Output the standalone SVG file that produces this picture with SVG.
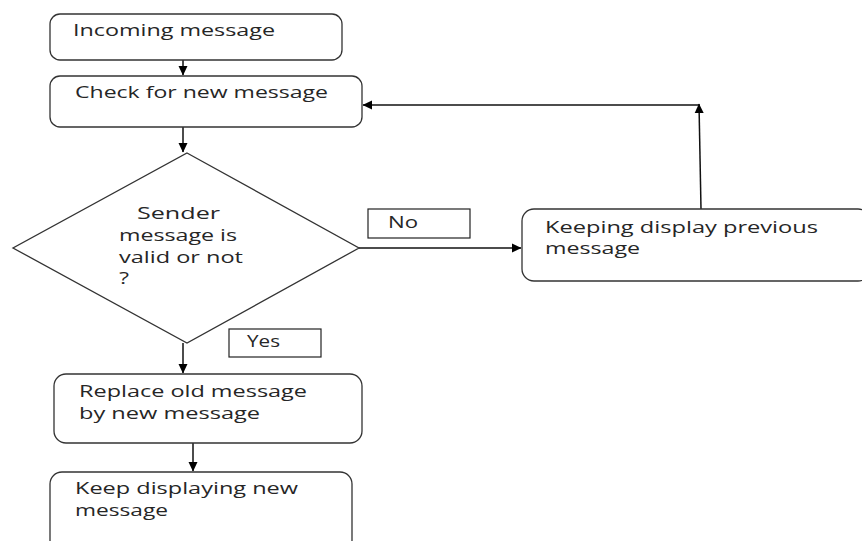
<svg xmlns="http://www.w3.org/2000/svg" width="862" height="541" viewBox="0 0 862 541">
<style>
.n{fill:#fff;stroke:#333;stroke-width:1.3}
.l{fill:#fff;stroke:#222;stroke-width:1.2}
.c{fill:none;stroke:#111;stroke-width:1.5}
text{font-family:"Open Sans","Liberation Sans",sans-serif;font-size:16px;fill:#262626}
</style>
<defs>
<marker id="ah" markerWidth="10" markerHeight="10" refX="9" refY="5" orient="auto" markerUnits="userSpaceOnUse">
<path d="M0,0.5 L9.5,5 L0,9.5 Z" fill="#000"/>
</marker>
</defs>
<rect width="862" height="541" fill="#fff"/>
<g id="connectors">
<line class="c" x1="183" y1="60" x2="183" y2="75" marker-end="url(#ah)"/>
<line class="c" x1="183" y1="127" x2="183" y2="152" marker-end="url(#ah)"/>
<line class="c" x1="359" y1="248" x2="521" y2="248" marker-end="url(#ah)"/>
<polyline class="c" points="701,209 699,104" marker-end="url(#ah)"/>
<line class="c" x1="699" y1="105" x2="363" y2="105" marker-end="url(#ah)"/>
<line class="c" x1="183" y1="343" x2="183" y2="373" marker-end="url(#ah)"/>
<line class="c" x1="193" y1="443" x2="193" y2="471" marker-end="url(#ah)"/>
</g>
<g id="incoming">
<rect class="n" x="50" y="14" width="292" height="46" rx="10"/>
<text x="73" y="36" textLength="202" lengthAdjust="spacingAndGlyphs">Incoming message</text>
</g>
<g id="check">
<rect class="n" x="50" y="76" width="312" height="51" rx="10"/>
<text x="75" y="98" textLength="253" lengthAdjust="spacingAndGlyphs">Check for new message</text>
</g>
<g id="decision">
<polygon class="n" points="187,153 359,248 187,343 13,248"/>
<text x="137" y="219" textLength="83" lengthAdjust="spacingAndGlyphs">Sender</text>
<text x="119" y="241" textLength="118" lengthAdjust="spacingAndGlyphs">message is</text>
<text x="119" y="263" textLength="124" lengthAdjust="spacingAndGlyphs">valid or not</text>
<text x="119" y="284" textLength="10" lengthAdjust="spacingAndGlyphs">?</text>
</g>
<g id="label-no">
<rect class="l" x="368" y="209" width="102" height="29"/>
<text x="388" y="228" textLength="30" lengthAdjust="spacingAndGlyphs">No</text>
</g>
<g id="label-yes">
<rect class="l" x="229" y="329" width="92" height="28"/>
<text x="247" y="347" textLength="33" lengthAdjust="spacingAndGlyphs">Yes</text>
</g>
<g id="keep-previous">
<rect class="n" x="522" y="209" width="348" height="72" rx="12"/>
<text x="545" y="233" textLength="273" lengthAdjust="spacingAndGlyphs">Keeping display previous</text>
<text x="545" y="254" textLength="95" lengthAdjust="spacingAndGlyphs">message</text>
</g>
<g id="replace">
<rect class="n" x="54" y="374" width="308" height="69" rx="12"/>
<text x="79" y="397" textLength="228" lengthAdjust="spacingAndGlyphs">Replace old message</text>
<text x="79" y="419" textLength="181" lengthAdjust="spacingAndGlyphs">by new message</text>
</g>
<g id="keep-new">
<rect class="n" x="50" y="472" width="302" height="80" rx="12"/>
<text x="75" y="494" textLength="223" lengthAdjust="spacingAndGlyphs">Keep displaying new</text>
<text x="75" y="516" textLength="93" lengthAdjust="spacingAndGlyphs">message</text>
</g>
</svg>
